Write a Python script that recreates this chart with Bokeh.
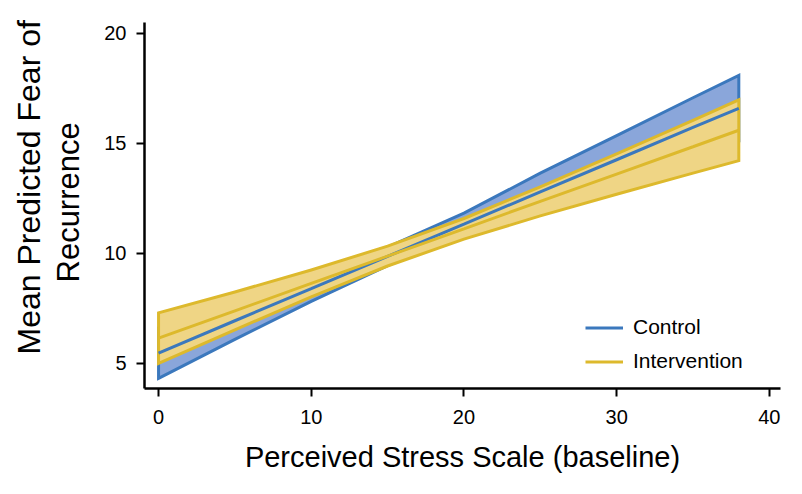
from bokeh.plotting import figure
from bokeh.models import Range1d, FixedTicker, Legend, LegendItem, Title
from bokeh.embed import file_html
from bokeh.resources import INLINE

# ---- data ----
stress = [0, 5, 10, 15, 20, 25, 30, 35, 38]
control_mean = [5.47, 6.94, 8.40, 9.87, 11.33, 12.80, 14.26, 15.73, 16.60]
control_lower = [4.32, 6.09, 7.82, 9.45, 10.83, 11.95, 13.16, 14.38, 15.10]
control_upper = [6.62, 7.79, 8.98, 10.29, 11.83, 13.65, 15.36, 17.08, 18.10]
interv_mean = [6.15, 7.39, 8.64, 9.88, 11.12, 12.37, 13.61, 14.85, 15.60]
interv_lower = [5.00, 6.53, 8.03, 9.43, 10.65, 11.71, 12.69, 13.65, 14.22]
interv_upper = [7.30, 8.25, 9.25, 10.33, 11.59, 13.03, 14.53, 16.05, 16.98]
x_ticks = [0, 10, 20, 30, 40]
y_ticks = [5, 10, 15, 20]
series_names = ["Control", "Intervention"]
x_title = "Perceived Stress Scale (baseline)"
y_title_lines = ["Mean Predicted Fear of", "Recurrence"]

FONT = "Liberation Sans"
BLUE_LINE = "#3B78BD"
BLUE_FILL = "#8AA6DA"
YEL_LINE = "#DDB92C"
YEL_FILL = "#EFD585"
LW = 3

p = figure(width=802, height=494, output_backend="svg", toolbar_location=None,
           x_range=Range1d(-0.92, 40.73), y_range=Range1d(3.86, 20.5))
p.min_border = 0
p.min_border_left = 144
p.min_border_right = 22
p.min_border_top = 22
p.min_border_bottom = 106
p.outline_line_color = None
p.background_fill_color = "white"
p.border_fill_color = "white"
p.xgrid.visible = False
p.ygrid.visible = False

# bands
cx = stress + stress[::-1]
p.patch(cx, control_lower + control_upper[::-1], fill_color=BLUE_FILL,
        line_color=BLUE_LINE, line_width=LW, line_join="miter")
p.patch(cx, interv_lower + interv_upper[::-1], fill_color=YEL_FILL,
        line_color=YEL_LINE, line_width=LW, line_join="miter")
r_c = p.line(stress, control_mean, line_color=BLUE_LINE, line_width=LW)
r_i = p.line(stress, interv_mean, line_color=YEL_LINE, line_width=LW)

for ax, ticks in ((p.xaxis[0], x_ticks), (p.yaxis[0], y_ticks)):
    ax.ticker = FixedTicker(ticks=ticks)
    ax.minor_tick_line_color = None
    ax.major_tick_out = 8
    ax.major_tick_in = 0
    ax.major_tick_line_width = 2
    ax.major_tick_line_color = "black"
    ax.axis_line_width = 2.5
    ax.axis_line_color = "black"
    ax.major_label_text_font = FONT
    ax.major_label_text_font_size = "20px"
    ax.major_label_text_color = "black"
p.xaxis.major_label_standoff = 13
p.yaxis.major_label_standoff = 10

p.xaxis.axis_label = x_title
p.xaxis.axis_label_text_font = FONT
p.xaxis.axis_label_text_font_size = "29px"
p.xaxis.axis_label_text_font_style = "normal"
p.xaxis.axis_label_text_color = "black"
p.xaxis.axis_label_standoff = 14

# small blank spacer between the y tick labels and the y title
p.yaxis.axis_label = " "
p.yaxis.axis_label_text_font_size = "1px"
p.yaxis.axis_label_standoff = 9

# y title as two stacked left titles (align "left" = starts at frame bottom)
t2 = Title(text=y_title_lines[1], align="left", text_font=FONT,
           text_font_size="31px", text_font_style="normal", text_color="black",
           offset=106, standoff=5)
t1 = Title(text=y_title_lines[0], align="left", text_font=FONT,
           text_font_size="32px", text_font_style="normal", text_color="black",
           offset=34, standoff=0)
p.add_layout(t2, "left")
p.add_layout(t1, "left")

legend = Legend(items=[LegendItem(label=series_names[0], renderers=[r_c]),
                       LegendItem(label=series_names[1], renderers=[r_i])],
                location=(441, 15), orientation="vertical",
                border_line_color=None, background_fill_alpha=0,
                padding=0, margin=0, spacing=10,
                glyph_width=38, glyph_height=21, label_height=21,
                label_standoff=10, label_text_font=FONT,
                label_text_font_size="21px", label_text_color="black")
p.add_layout(legend)

open("out.html", "w").write(file_html(p, INLINE))
